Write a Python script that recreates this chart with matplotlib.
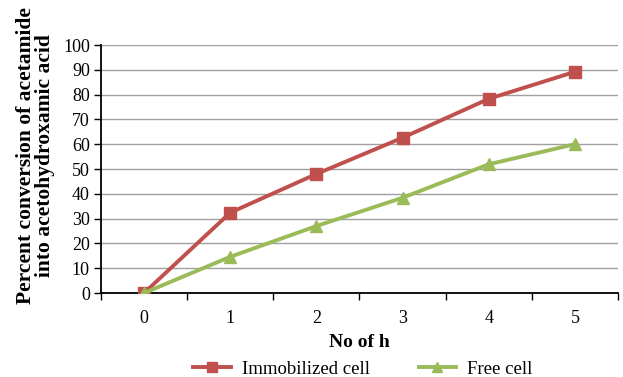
import matplotlib
matplotlib.use("Agg")
import matplotlib.pyplot as plt
import numpy as np

hours = [0, 1, 2, 3, 4, 5]
immobilized = [0, 32.4, 48.0, 62.6, 78.3, 89.2]
free_cell = [0, 14.6, 27.0, 38.4, 51.9, 60.0]
y_ticks = [0, 10, 20, 30, 40, 50, 60, 70, 80, 90, 100]

plt.rcParams['font.family'] = ['Liberation Serif', 'DejaVu Serif']

fig = plt.figure(figsize=(6.23, 3.77), dpi=100)
W, H = 623, 377
ax = fig.add_axes([101 / W, 1 - 293 / H, (618 - 101) / W, (293 - 45) / H])

x = np.arange(len(hours))
red = '#c0504d'
green = '#9bbb59'
ax.plot(x, immobilized, color=red, lw=2.8, marker='s', ms=8, label='Immobilized cell', zorder=3)
ax.plot(x, free_cell, color=green, lw=2.8, marker='^', ms=8, label='Free cell', zorder=4)

ax.set_xlim(-0.5, 5.5)
ax.set_ylim(0, 100)
ax.set_yticks(y_ticks)
ax.set_xticks(x)
ax.set_xticklabels([str(h) for h in hours])
ax.set_xticks(np.arange(-0.5, 5.6, 1), minor=True)
ax.tick_params(axis='x', which='major', length=0, labelsize=13, pad=12)
ax.tick_params(axis='x', which='minor', length=5, width=1, direction='out')
ax.tick_params(axis='y', length=5, width=1, direction='out', labelsize=13, pad=3)
ax.grid(axis='y', color='#a0a0a0', lw=1)
ax.set_axisbelow(True)
for s in ['top', 'right']:
    ax.spines[s].set_visible(False)
ax.spines['left'].set_linewidth(1.3)
ax.spines['bottom'].set_linewidth(1.3)

ax.set_xlabel('No of h', fontsize=14, fontweight='bold', labelpad=5)
ax.set_ylabel('Percent conversion of acetamide\ninto acetohydroxamic acid', fontsize=15.5,
              fontweight='bold', labelpad=4, linespacing=0.95)
ax.yaxis.set_label_coords(-46 / 517, 0.555)

fig.legend(loc='center', bbox_to_anchor=(363 / W, 1 - 369 / H), ncol=2, frameon=False,
           fontsize=13.5, handlelength=2.0, columnspacing=2.6, handletextpad=0.6,
           borderaxespad=0, borderpad=0, markerscale=0.85)

fig.savefig('out.png', dpi=100)
